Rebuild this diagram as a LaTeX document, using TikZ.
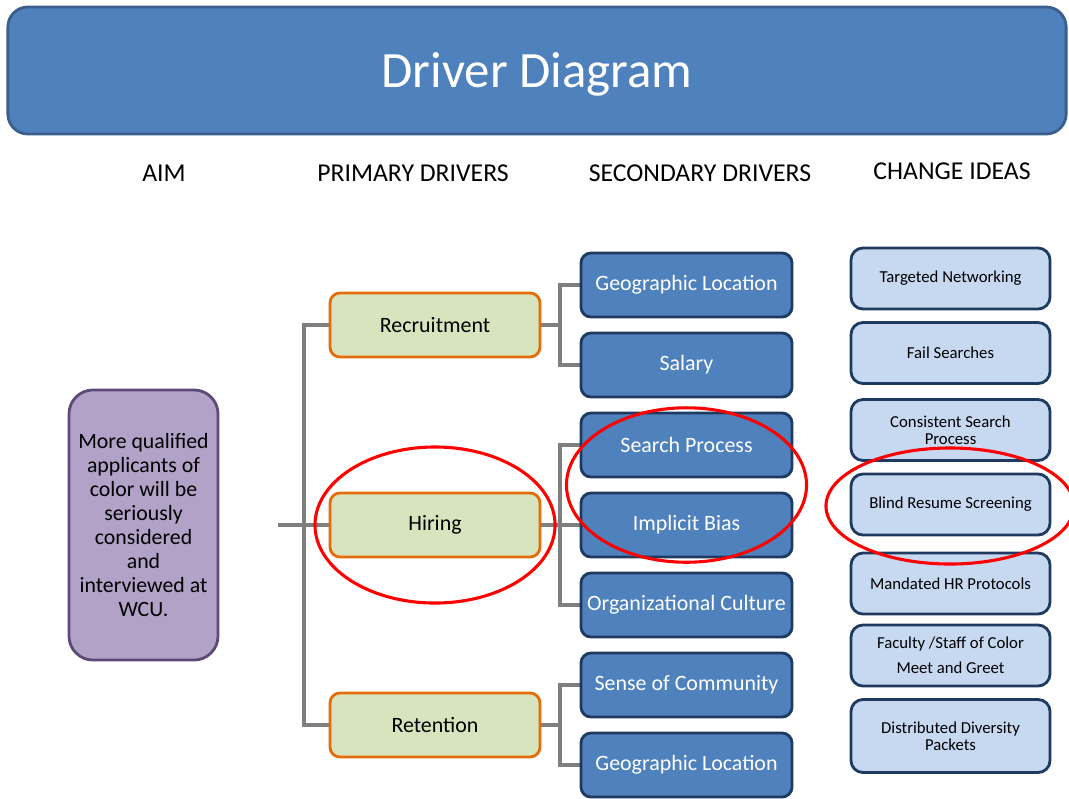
\documentclass[tikz,border=0pt]{standalone}
\usepackage{fontspec}
\setmainfont{Carlito}
\usetikzlibrary{calc}

\definecolor{hdrblue}{HTML}{4F81BD}
\definecolor{hdredge}{HTML}{3A5F8C}
\definecolor{navy}{HTML}{1F3A60}
\definecolor{paleblue}{HTML}{C6D9F1}
\definecolor{aimfill}{HTML}{B2A2C7}
\definecolor{aimedge}{HTML}{5F497A}
\definecolor{primfill}{HTML}{D7E4BD}
\definecolor{primedge}{HTML}{E46C0A}
\definecolor{linkgray}{HTML}{7F7F7F}

\pgfdeclarelayer{background}
\pgfsetlayers{background,main}

\begin{document}
\begin{tikzpicture}[x=0.025cm,y=-0.025cm,
        aim/.style={draw=aimedge,fill=aimfill,line width=2pt,rounded corners=0.6cm,
            minimum width=3.725cm,minimum height=6.75cm,align=center,
            font=\fontsize{15.5}{17.1}\selectfont},
        primary/.style={draw=primedge,fill=primfill,line width=2pt,rounded corners=0.25cm,
            minimum width=5.25cm,minimum height=1.6cm,font=\fontsize{15.6}{18}\selectfont},
        secondary/.style={draw=navy,fill=hdrblue,line width=2pt,rounded corners=0.25cm,
            minimum width=5.275cm,minimum height=1.6cm,text=white,font=\fontsize{15.6}{18}\selectfont},
        idea/.style={draw=navy,fill=paleblue,line width=2pt,rounded corners=0.3cm,
            minimum width=4.975cm,minimum height=1.525cm,align=center,
            font=\fontsize{11.9}{12.1}\selectfont},
        colhead/.style={font=\fontsize{18.3}{22}\selectfont},
        link/.style={draw=linkgray,line width=2.6pt},
        hilite/.style={draw=red,line width=2.2pt}]
    \useasboundingbox (0,0) rectangle (1069,798);

    % title bar
    \node[draw=hdredge,fill=hdrblue,line width=2pt,rounded corners=0.5cm,
        minimum width=26.45cm,minimum height=3.175cm,text=white,
        text height=30pt,text depth=6pt,
        font=\fontsize{36.2}{40}\selectfont] (title) at (537,70.5) {Driver Diagram};

    % column headings
    \node[colhead] (haim) at (164,173) {AIM};
    \node[colhead] (hprim) at (413,173) {PRIMARY DRIVERS};
    \node[colhead] (hsec) at (700,173) {SECONDARY DRIVERS};
    \node[colhead] (hidea) at (952,171) {CHANGE IDEAS};

    % aim
    \node[aim] (goal) at (143.5,525) {More qualified\\applicants of\\color will be\\seriously\\considered\\and\\interviewed at\\WCU.};

    % primary drivers
    \node[primary] (recruit) at (435,325) {Recruitment};
    \node[primary] (hiring) at (435,525) {Hiring};
    \node[primary] (retain) at (435,725) {Retention};

    % secondary drivers
    \node[secondary] (geoA) at (686.5,285) {Geographic Location};
    \node[secondary] (salary) at (686.5,365) {Salary};
    \node[secondary] (search) at (686.5,445) {Search Process};
    \node[secondary] (bias) at (686.5,525) {Implicit Bias};
    \node[secondary] (culture) at (686.5,605) {Organizational Culture};
    \node[secondary] (sense) at (686.5,685) {Sense of Community};
    \node[secondary] (geoB) at (686.5,765) {Geographic Location};

    % change ideas
    \node[idea] (network) at (950.5,278.5) {Targeted Networking};
    \node[idea] (fail) at (950.5,353) {Fail Searches};
    \node[idea] (consist) at (950.5,430) {Consistent Search\\Process};
    \node[idea] (blind) at (950.5,504.5) {Blind Resume Screening};
    \node[idea] (mandate) at (950.5,583.5) {Mandated HR Protocols};
    \node[idea] (meet) at (950.5,655.5) {Faculty /Staff of Color\\[6pt]Meet and Greet};
    \node[idea,minimum height=1.825cm] (packets) at (950.5,736) {Distributed Diversity\\Packets};

    % tree connectors
    \coordinate (trunk) at (278,525);
    \coordinate (split) at (304,525);
    \coordinate (recj) at (560,325);
    \coordinate (hirj) at (560,525);
    \coordinate (retj) at (560,725);

    \begin{pgfonlayer}{background}
    \draw[link] (trunk) -- (hiring.west);
    \draw[link] (split) |- (recruit.west);
    \draw[link] (split) |- (retain.west);
    \draw[link] (recruit.east) -- (recj) |- (geoA.west);
    \draw[link] (recj) |- (salary.west);
    \draw[link] (hiring.east) -- (hirj) |- (search.west);
    \draw[link] (hirj) -- (bias.west);
    \draw[link] (hirj) |- (culture.west);
    \draw[link] (retain.east) -- (retj) |- (sense.west);
    \draw[link] (retj) |- (geoB.west);
    \end{pgfonlayer}

    % highlights
    \draw[hilite] (hiring.center) ellipse [x radius=3cm,y radius=1.95cm];
    \draw[hilite] ($(search)!0.5!(bias)$) ellipse [x radius=3cm,y radius=1.93cm];
    \draw[hilite] (950,506) ellipse [x radius=3.1cm,y radius=1.45cm];
\end{tikzpicture}
\end{document}
